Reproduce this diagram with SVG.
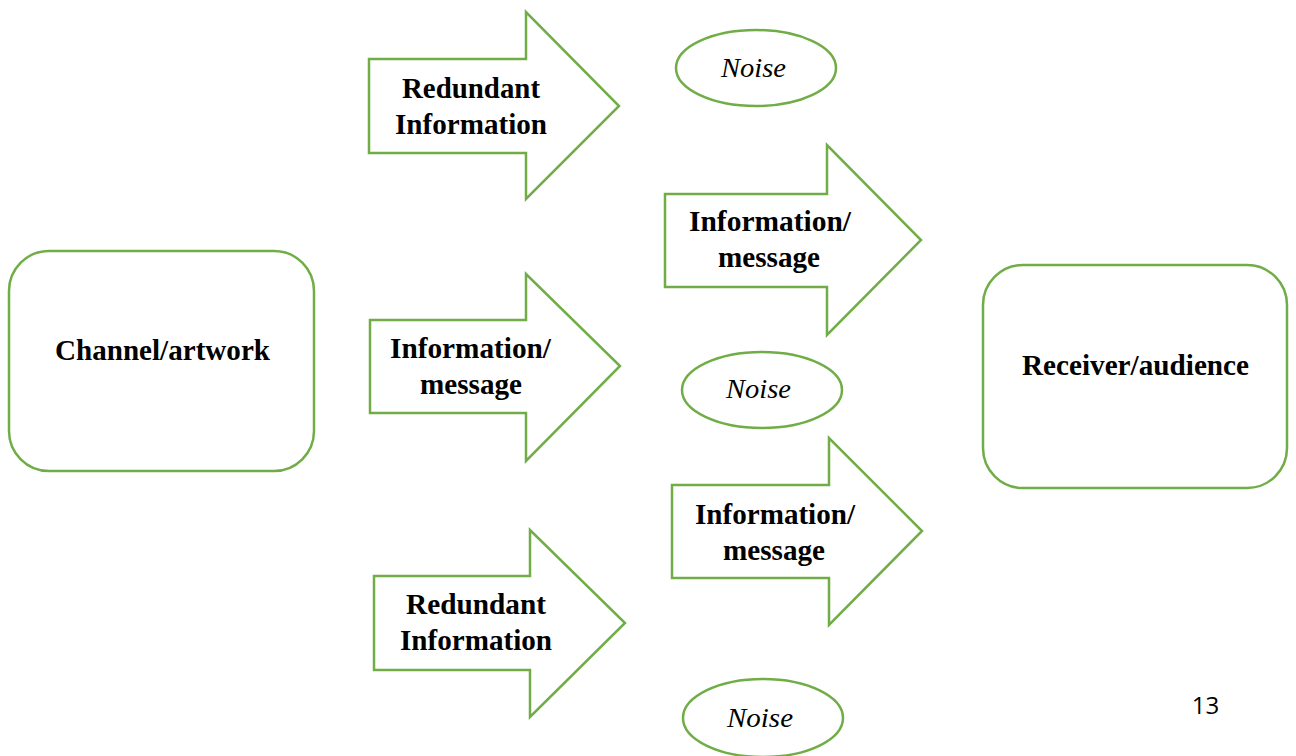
<svg xmlns="http://www.w3.org/2000/svg" width="1296" height="756" viewBox="0 0 1296 756">
<style>
.shape{fill:#fff;stroke:#70AD47;stroke-width:2.5}
.lbl{font-weight:bold;font-size:29px;fill:#000;text-anchor:middle}
.noise{font-style:italic;font-size:28px;fill:#000;text-anchor:middle}
</style>
<rect width="1296" height="756" fill="#fff"/>
<g id="channel">
<rect class="shape" x="9" y="251" width="305" height="220" rx="40"/>
<text class="lbl" font-family="Liberation Serif, serif" x="162.5" y="360" textLength="215" lengthAdjust="spacingAndGlyphs">Channel/artwork</text>
</g>
<g id="receiver">
<rect class="shape" x="983" y="265" width="304" height="223" rx="40"/>
<text class="lbl" font-family="Liberation Serif, serif" x="1135.5" y="375" textLength="227" lengthAdjust="spacingAndGlyphs">Receiver/audience</text>
</g>
<g id="connectors" font-family="Liberation Serif, serif">
<g id="arrow-redundant-top">
<polygon class="shape" points="369,59 526,59 526,12 619,106 526,199 526,153 369,153"/>
<text class="lbl" x="471" y="98" textLength="138" lengthAdjust="spacingAndGlyphs">Redundant</text>
<text class="lbl" x="471" y="134" textLength="152" lengthAdjust="spacingAndGlyphs">Information</text>
</g>
<g id="arrow-info-left">
<polygon class="shape" points="370,320 526,320 526,274 620,366 526,461 526,413 370,413"/>
<text class="lbl" x="470.5" y="358" textLength="161" lengthAdjust="spacingAndGlyphs">Information/</text>
<text class="lbl" x="471" y="394" textLength="102" lengthAdjust="spacingAndGlyphs">message</text>
</g>
<g id="arrow-info-top-right">
<polygon class="shape" points="665,194 827,194 827,145 921,240 827,335 827,287 665,287"/>
<text class="lbl" x="770" y="231" textLength="162" lengthAdjust="spacingAndGlyphs">Information/</text>
<text class="lbl" x="769" y="267" textLength="102" lengthAdjust="spacingAndGlyphs">message</text>
</g>
<g id="arrow-info-bottom-right">
<polygon class="shape" points="672,485 829,485 829,438 922,531 829,625 829,578 672,578"/>
<text class="lbl" x="775" y="524" textLength="160" lengthAdjust="spacingAndGlyphs">Information/</text>
<text class="lbl" x="774" y="560" textLength="102" lengthAdjust="spacingAndGlyphs">message</text>
</g>
<g id="arrow-redundant-bottom">
<polygon class="shape" points="374,576 530,576 530,530 625,623 530,717 530,670 374,670"/>
<text class="lbl" x="476" y="614" textLength="140" lengthAdjust="spacingAndGlyphs">Redundant</text>
<text class="lbl" x="476" y="650" textLength="152" lengthAdjust="spacingAndGlyphs">Information</text>
</g>
</g>
<g id="noise1" font-family="Liberation Serif, serif">
<ellipse class="shape" cx="756" cy="68" rx="80" ry="38"/>
<text class="noise" x="753.5" y="77" textLength="65" lengthAdjust="spacingAndGlyphs">Noise</text>
</g>
<g id="noise2" font-family="Liberation Serif, serif">
<ellipse class="shape" cx="762" cy="390" rx="80" ry="38"/>
<text class="noise" x="758.5" y="398" textLength="65" lengthAdjust="spacingAndGlyphs">Noise</text>
</g>
<g id="noise3" font-family="Liberation Serif, serif">
<ellipse class="shape" cx="763" cy="718" rx="80" ry="39"/>
<text class="noise" x="760" y="727" textLength="66" lengthAdjust="spacingAndGlyphs">Noise</text>
</g>
<text x="1205.5" y="714" font-family="Open Sans, Liberation Sans, sans-serif" font-size="24" text-anchor="middle" fill="#000">13</text>
</svg>
